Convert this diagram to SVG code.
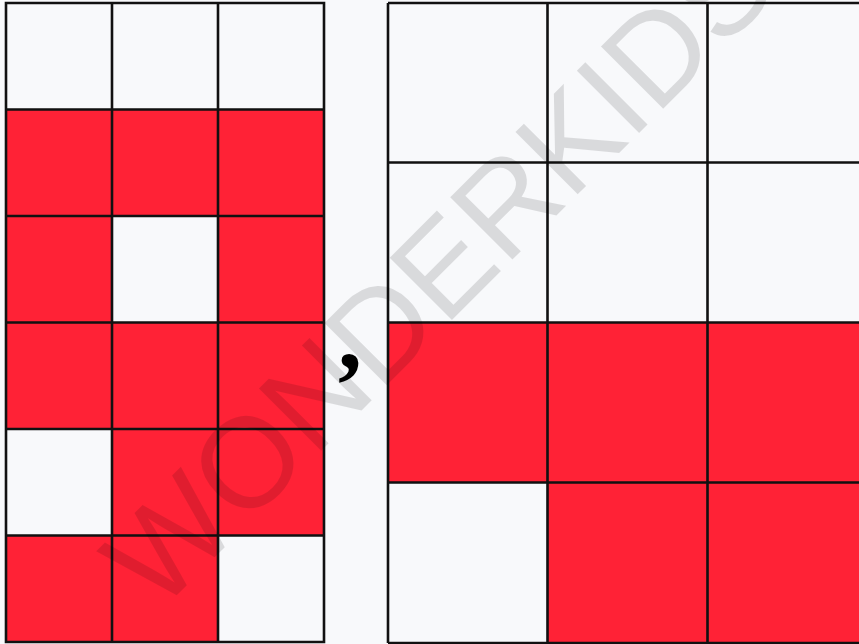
<svg xmlns="http://www.w3.org/2000/svg" width="859" height="644" viewBox="0 0 859 644">
<style>
.w{fill:#f8f9fb}
.r{fill:#ff2236}
.ln{stroke:#111;stroke-width:2.6;fill:none}
.wm{font-family:"Liberation Sans",Arial,sans-serif;font-size:128px;fill:#000;fill-opacity:0.12}
</style>
<rect width="859" height="644" fill="#f8f9fb"/>
<g id="left-grid">
<rect class="w" x="6" y="3" width="106" height="106.5"/>
<rect class="w" x="112" y="3" width="106" height="106.5"/>
<rect class="w" x="218" y="3" width="106" height="106.5"/>
<rect class="r" x="6" y="109.5" width="106" height="106.5"/>
<rect class="r" x="112" y="109.5" width="106" height="106.5"/>
<rect class="r" x="218" y="109.5" width="106" height="106.5"/>
<rect class="r" x="6" y="216" width="106" height="106.5"/>
<rect class="w" x="112" y="216" width="106" height="106.5"/>
<rect class="r" x="218" y="216" width="106" height="106.5"/>
<rect class="r" x="6" y="322.5" width="106" height="106.5"/>
<rect class="r" x="112" y="322.5" width="106" height="106.5"/>
<rect class="r" x="218" y="322.5" width="106" height="106.5"/>
<rect class="w" x="6" y="429" width="106" height="106.5"/>
<rect class="r" x="112" y="429" width="106" height="106.5"/>
<rect class="r" x="218" y="429" width="106" height="106.5"/>
<rect class="r" x="6" y="535.5" width="106" height="106.5"/>
<rect class="r" x="112" y="535.5" width="106" height="106.5"/>
<rect class="w" x="218" y="535.5" width="106" height="106.5"/>
<path class="ln" d="M6 3H324V642H6Z M112 3V642 M218 3V642 M6 109.5H324 M6 216H324 M6 322.5H324 M6 429H324 M6 535.5H324"/>
</g>
<g id="right-grid">
<rect class="w" x="388" y="3" width="480" height="320"/>
<rect class="r" x="388" y="323" width="480" height="160"/>
<rect class="w" x="388" y="483" width="160" height="160"/>
<rect class="r" x="548" y="483" width="320" height="160"/>
<path class="ln" d="M388 3H868 M388 3V643 M388 643H868 M547.5 3V643 M707.5 3V643 M388 162.5H868 M388 322.5H868 M388 482.5H868"/>
</g>
<text id="comma" x="338" y="368" font-family="Liberation Serif,serif" font-weight="bold" font-size="96" fill="#000">,</text>
<text class="wm" transform="translate(158,614) rotate(-45)">WONDERKIDS</text>
</svg>
